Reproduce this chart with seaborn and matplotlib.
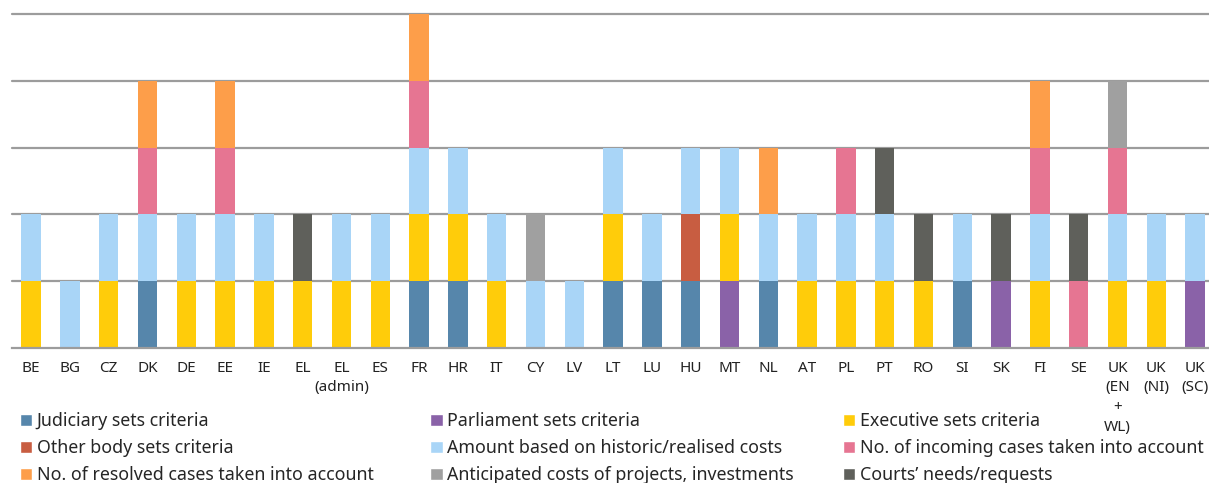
import pandas as pd
import seaborn as sns
import matplotlib.pyplot as plt
from matplotlib.patches import Patch

# Countries (x axis)
countries = ['BE', 'BG', 'CZ', 'DK', 'DE', 'EE', 'IE', 'EL', 'EL\n(admin)', 'ES',
             'FR', 'HR', 'IT', 'CY', 'LV', 'LT', 'LU', 'HU', 'MT', 'NL',
             'AT', 'PL', 'PT', 'RO', 'SI', 'SK', 'FI', 'SE',
             'UK\n(EN\n+\nWL)', 'UK\n(NI)', 'UK\n(SC)']

criteria = ['Judiciary sets criteria', 'Parliament sets criteria', 'Executive sets criteria',
            'Other body sets criteria', 'Amount based on historic/realised costs',
            'No. of incoming cases taken into account', 'No. of resolved cases taken into account',
            'Anticipated costs of projects, investments', 'Courts’ needs/requests']

colors = ['#5686ab', '#8a62a8', '#ffcc0a', '#c85d41', '#a9d5f7',
          '#e67592', '#fd9e4a', '#a0a0a0', '#5f605b']

# 1 = criterion used by the country (order follows countries list)
#            BE BG CZ DK DE EE IE EL ELa ES FR HR IT CY LV LT LU HU MT NL AT PL PT RO SI SK FI SE UKe UKn UKs
judiciary   = [0, 0, 0, 1, 0, 0, 0, 0, 0, 0, 1, 1, 0, 0, 0, 1, 1, 1, 0, 1, 0, 0, 0, 0, 1, 0, 0, 0, 0, 0, 0]
parliament  = [0, 0, 0, 0, 0, 0, 0, 0, 0, 0, 0, 0, 0, 0, 0, 0, 0, 0, 1, 0, 0, 0, 0, 0, 0, 1, 0, 0, 0, 0, 1]
executive   = [1, 0, 1, 0, 1, 1, 1, 1, 1, 1, 1, 1, 1, 0, 0, 1, 0, 0, 1, 0, 1, 1, 1, 1, 0, 0, 1, 0, 1, 1, 0]
other_body  = [0, 0, 0, 0, 0, 0, 0, 0, 0, 0, 0, 0, 0, 0, 0, 0, 0, 1, 0, 0, 0, 0, 0, 0, 0, 0, 0, 0, 0, 0, 0]
historic    = [1, 1, 1, 1, 1, 1, 1, 0, 1, 1, 1, 1, 1, 1, 1, 1, 1, 1, 1, 1, 1, 1, 1, 0, 1, 0, 1, 0, 1, 1, 1]
incoming    = [0, 0, 0, 1, 0, 1, 0, 0, 0, 0, 1, 0, 0, 0, 0, 0, 0, 0, 0, 0, 0, 1, 0, 0, 0, 0, 1, 1, 1, 0, 0]
resolved    = [0, 0, 0, 1, 0, 1, 0, 0, 0, 0, 1, 0, 0, 0, 0, 0, 0, 0, 0, 1, 0, 0, 0, 0, 0, 0, 1, 0, 0, 0, 0]
anticipated = [0, 0, 0, 0, 0, 0, 0, 0, 0, 0, 0, 0, 0, 1, 0, 0, 0, 0, 0, 0, 0, 0, 0, 0, 0, 0, 0, 0, 1, 0, 0]
courts      = [0, 0, 0, 0, 0, 0, 0, 1, 0, 0, 0, 0, 0, 0, 0, 0, 0, 0, 0, 0, 0, 0, 1, 1, 0, 1, 0, 1, 0, 0, 0]

series = [judiciary, parliament, executive, other_body, historic,
          incoming, resolved, anticipated, courts]

# long format, one row per used criterion
rows = []
for crit, vals in zip(criteria, series):
    for c, v in zip(countries, vals):
        if v:
            rows.append({'country': c, 'criterion': crit, 'w': v})
df = pd.DataFrame(rows)
df['country'] = pd.Categorical(df['country'], categories=countries)

sns.set_style('white')
plt.rcParams['font.family'] = ['Noto Sans', 'DejaVu Sans']

fig = plt.figure(figsize=(12.09, 4.83), dpi=100)
ax = fig.add_axes([0.0096, 0.2795, 0.9949, 0.6915])

palette = dict(zip(criteria, colors))
# seaborn stacks the first hue level on top, so reverse the order
sns.histplot(data=df, x='country', hue='criterion', weights='w',
             hue_order=criteria[::-1], palette=palette, multiple='stack',
             discrete=True, shrink=0.5, alpha=1, linewidth=0,
             legend=False, ax=ax)

ax.set_ylim(0, 5)
ax.set_xlim(-0.5, len(countries) - 0.5)
ax.set_yticks(range(1, 6))
ax.yaxis.grid(True, color='#9c9c9c', linewidth=1.6)
for gl in ax.get_ygridlines():
    gl.set_clip_on(False)
ax.set_axisbelow(True)
ax.tick_params(axis='y', left=False, labelleft=False)
ax.set_xticks(range(len(countries)))
ax.set_xticklabels(countries, fontsize=11, linespacing=1.45, va='top')
ax.set_xticks([i - 0.5 for i in range(len(countries) + 1)], minor=True)
ax.tick_params(axis='x', which='major', length=0, pad=9, colors='#222222')
ax.tick_params(axis='x', which='minor', length=4, width=1.2, color='#9c9c9c')
for s in ['top', 'left', 'right']:
    ax.spines[s].set_visible(False)
ax.spines['bottom'].set_color('#9c9c9c')
ax.spines['bottom'].set_linewidth(1.6)
ax.set_xlabel('')
ax.set_ylabel('')

# legend: three columns laid out row by row
handles = [Patch(facecolor=c, label=l) for l, c in zip(criteria, colors)]
col_x = [0.0165, 0.356, 0.697]
for j in range(3):
    fig.legend(handles=handles[j::3], loc='upper left', bbox_to_anchor=(col_x[j], 0.147),
               frameon=False, fontsize=12.8, handlelength=0.7, handleheight=0.7,
               handletextpad=0.25, labelspacing=0.52, borderaxespad=0, borderpad=0)

fig.savefig('out.png', dpi=100)
